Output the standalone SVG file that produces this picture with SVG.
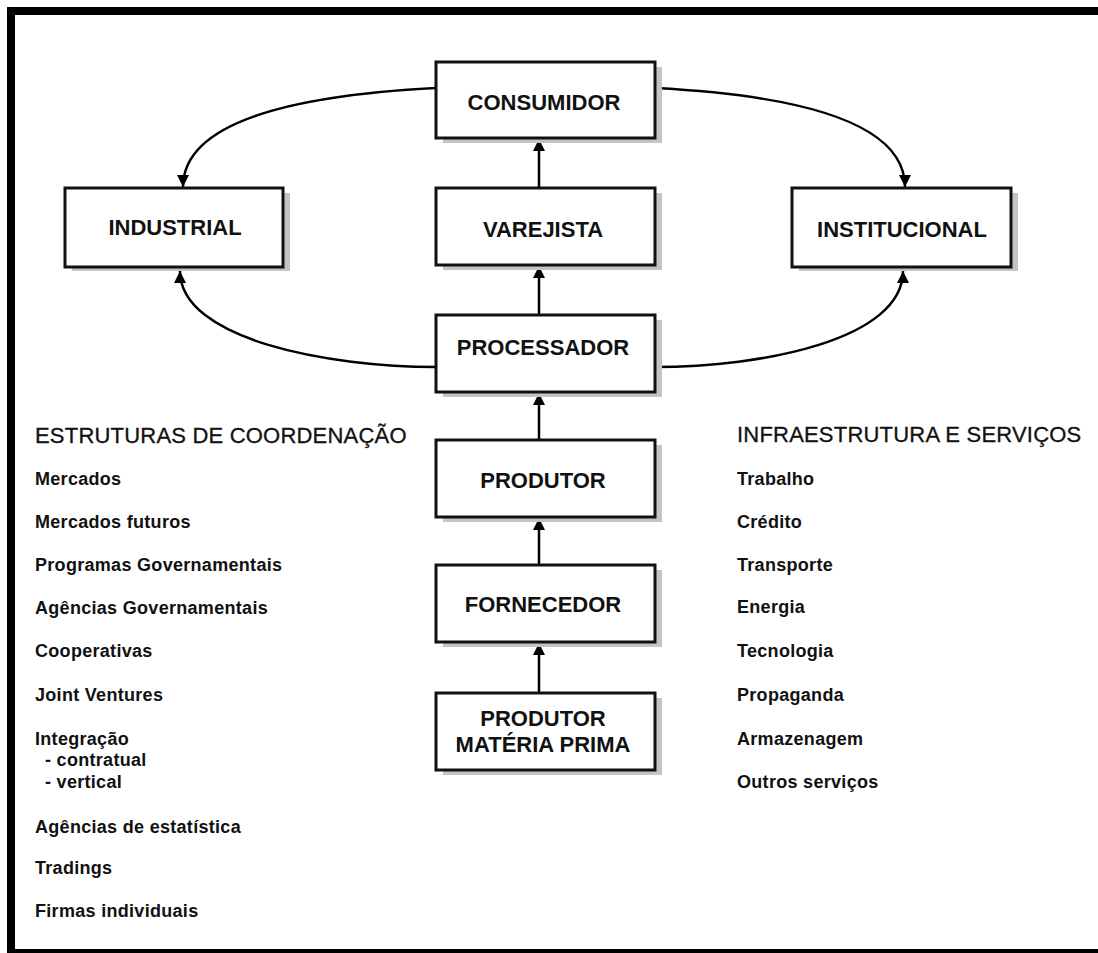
<svg xmlns="http://www.w3.org/2000/svg" width="1098" height="953" viewBox="0 0 1098 953">
<style>
.frame{fill:none;stroke:#000;stroke-width:8}
.sh{fill:#c4c4c4}
.bx{fill:#fff;stroke:#111;stroke-width:3}
.bt{font-family:"Liberation Sans",Arial,sans-serif;font-size:22px;font-weight:bold;fill:#111;text-anchor:middle}
.hd{font-family:"Liberation Sans",Arial,sans-serif;font-size:22px;fill:#111;stroke:#111;stroke-width:0.3;letter-spacing:0.2px}
.it{font-family:"Liberation Sans",Arial,sans-serif;font-size:18px;font-weight:bold;fill:#111;letter-spacing:0.3px}
.cn{fill:none;stroke:#000;stroke-width:2.5}
</style>
<defs>
<marker id="ah" viewBox="0 0 10 10" refX="10" refY="5" markerWidth="12" markerHeight="12" markerUnits="userSpaceOnUse" orient="auto">
<path d="M0,0 L10,5 L0,10 z" fill="#000"/>
</marker>
</defs>
<rect width="1098" height="953" fill="#fff"/>
<rect class="frame" x="11" y="11" width="1100" height="942"/>

<g id="connectors">
<line class="cn" x1="539" y1="188" x2="539" y2="139" marker-end="url(#ah)"/>
<line class="cn" x1="539" y1="315" x2="539" y2="266" marker-end="url(#ah)"/>
<line class="cn" x1="539" y1="440" x2="539" y2="393" marker-end="url(#ah)"/>
<line class="cn" x1="539" y1="565" x2="539" y2="518" marker-end="url(#ah)"/>
<line class="cn" x1="539" y1="693" x2="539" y2="643" marker-end="url(#ah)"/>
<path class="cn" d="M436,88 C300,95 183,120 183,187" marker-end="url(#ah)"/>
<path class="cn" d="M655,88 C791,95 905,120 905,187" marker-end="url(#ah)"/>
<path class="cn" d="M436,367 C330,367 180,340 180,271" marker-end="url(#ah)"/>
<path class="cn" d="M655,367 C761,367 903,340 903,271" marker-end="url(#ah)"/>
</g>

<g id="consumidor">
<rect class="sh" x="443" y="67" width="219" height="76"/>
<rect class="bx" x="436" y="62" width="219" height="76"/>
<text class="bt" x="544" y="110">CONSUMIDOR</text>
</g>
<g id="industrial">
<rect class="sh" x="72" y="193" width="218" height="78"/>
<rect class="bx" x="65" y="188" width="218" height="79"/>
<text class="bt" x="175" y="235">INDUSTRIAL</text>
</g>
<g id="varejista">
<rect class="sh" x="443" y="193" width="219" height="77"/>
<rect class="bx" x="436" y="188" width="219" height="77"/>
<text class="bt" x="543" y="237">VAREJISTA</text>
</g>
<g id="institucional">
<rect class="sh" x="799" y="193" width="219" height="78"/>
<rect class="bx" x="792" y="188" width="219" height="79"/>
<text class="bt" x="902" y="237">INSTITUCIONAL</text>
</g>
<g id="processador">
<rect class="sh" x="443" y="320" width="219" height="77"/>
<rect class="bx" x="436" y="315" width="219" height="77"/>
<text class="bt" x="543" y="355">PROCESSADOR</text>
</g>
<g id="produtor">
<rect class="sh" x="443" y="445" width="219" height="77"/>
<rect class="bx" x="436" y="440" width="219" height="77"/>
<text class="bt" x="543" y="488">PRODUTOR</text>
</g>
<g id="fornecedor">
<rect class="sh" x="443" y="570" width="219" height="77"/>
<rect class="bx" x="436" y="565" width="219" height="77"/>
<text class="bt" x="543" y="612">FORNECEDOR</text>
</g>
<g id="produtor-materia-prima">
<rect class="sh" x="443" y="698" width="219" height="77"/>
<rect class="bx" x="436" y="693" width="219" height="77"/>
<text class="bt" x="543" y="726">PRODUTOR</text>
<text class="bt" x="543" y="752">MATÉRIA PRIMA</text>
</g>

<g id="estruturas">
<text class="hd" x="35" y="443">ESTRUTURAS DE COORDENAÇÃO</text>
<text class="it" x="35" y="485">Mercados</text>
<text class="it" x="35" y="528">Mercados futuros</text>
<text class="it" x="35" y="571">Programas Governamentais</text>
<text class="it" x="35" y="614">Agências Governamentais</text>
<text class="it" x="35" y="657">Cooperativas</text>
<text class="it" x="35" y="701">Joint Ventures</text>
<text class="it" x="35" y="745">Integração</text>
<text class="it" x="45" y="766">- contratual</text>
<text class="it" x="45" y="788">- vertical</text>
<text class="it" x="35" y="833">Agências de estatística</text>
<text class="it" x="35" y="874">Tradings</text>
<text class="it" x="35" y="917">Firmas individuais</text>
</g>

<g id="infraestrutura">
<text class="hd" x="737" y="442">INFRAESTRUTURA E SERVIÇOS</text>
<text class="it" x="737" y="485">Trabalho</text>
<text class="it" x="737" y="528">Crédito</text>
<text class="it" x="737" y="571">Transporte</text>
<text class="it" x="737" y="613">Energia</text>
<text class="it" x="737" y="657">Tecnologia</text>
<text class="it" x="737" y="701">Propaganda</text>
<text class="it" x="737" y="745">Armazenagem</text>
<text class="it" x="737" y="788">Outros serviços</text>
</g>
</svg>
